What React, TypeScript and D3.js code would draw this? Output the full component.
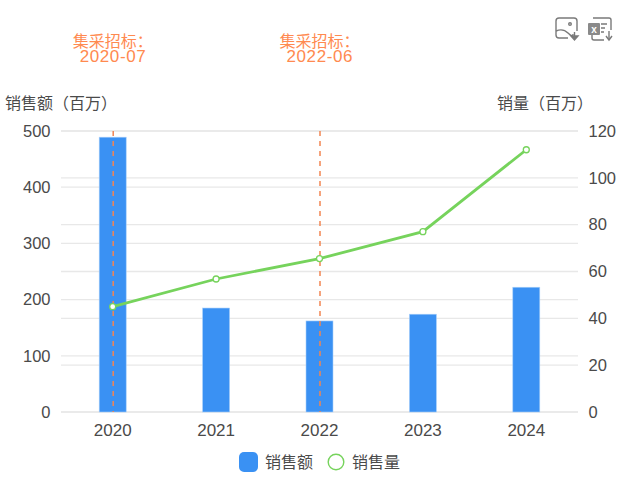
import React from "react";
import * as d3 from "d3";

const years = ["2020", "2021", "2022", "2023", "2024"];
const salesAmount = [489, 185, 162, 174, 222];
const salesVolume = [45, 56.8, 65.5, 77, 112];
const leftTicks = [0, 100, 200, 300, 400, 500];
const rightTicks = [0, 20, 40, 60, 80, 100, 120];
const tenders = [
  { year: "2020", date: "2020-07" },
  { year: "2022", date: "2022-06" },
];

const FONT = "'Liberation Sans','Noto Sans CJK SC',sans-serif";
const CJK = "'Noto Sans CJK SC',sans-serif";
const TEXT = "#4a4a4a";
const ORANGE = "#ff8a50";
const BLUE = "#3a91f3";
const GREEN = "#76d35c";

export default function App() {
  const x = d3.scaleBand<string>().domain(years).range([61, 578]);
  const yL = d3.scaleLinear().domain([0, 500]).range([412, 131]);
  const yR = d3.scaleLinear().domain([0, 120]).range([412, 131]);
  const cx = (y: string) => (x(y) as number) + x.bandwidth() / 2;
  const line = d3
    .line<number>()
    .x((_, i) => cx(years[i]))
    .y((d) => yR(d));
  const barW = 27;

  return (
    <svg
      width={632}
      height={490}
      style={{ position: "absolute", left: 0, top: 0, background: "#fff" }}
      fontFamily={FONT}
    >
      {leftTicks.map((t) => (
        <line key={"l" + t} x1={61} x2={578} y1={yL(t)} y2={yL(t)} stroke="#e8e8e8" strokeWidth={1.3} />
      ))}
      {rightTicks.map((t) => (
        <line key={"r" + t} x1={61} x2={578} y1={yR(t)} y2={yR(t)} stroke="#e8e8e8" strokeWidth={1.3} />
      ))}
      {salesAmount.map((v, i) => (
        <rect
          key={years[i]}
          x={cx(years[i]) - barW / 2}
          y={yL(v)}
          width={barW}
          height={412 - yL(v)}
          fill={BLUE}
          stroke="#a8cffa"
          strokeWidth={0.6}
        />
      ))}
      {tenders.map((t) => (
        <line
          key={t.date}
          x1={cx(t.year) + 0.5}
          x2={cx(t.year) + 0.5}
          y1={131}
          y2={412}
          stroke="#f28552"
          strokeWidth={1.5}
          strokeDasharray="5 5"
        />
      ))}
      <path d={line(salesVolume) as string} fill="none" stroke={GREEN} strokeWidth={2.8} />
      {salesVolume.map((v, i) => (
        <circle key={i} cx={cx(years[i])} cy={yR(v)} r={3} fill="#fff" stroke={GREEN} strokeWidth={1.3} />
      ))}
      {leftTicks.map((t) => (
        <text key={t} x={50.5} y={yL(t) + 5.8} textAnchor="end" fontSize={16.5} fill={TEXT}>
          {t}
        </text>
      ))}
      {rightTicks.map((t) => (
        <text key={t} x={588.5} y={yR(t) + 5.8} fontSize={16.5} fill={TEXT}>
          {t}
        </text>
      ))}
      {years.map((y) => (
        <text key={y} x={cx(y)} y={435.5} textAnchor="middle" fontSize={17} fill={TEXT}>
          {y}
        </text>
      ))}
      <text x={5} y={109} fontSize={16} fontFamily={CJK} fill={TEXT}>
        销售额（百万）
      </text>
      <text x={497} y={109} fontSize={16} fontFamily={CJK} fill={TEXT}>
        销量（百万）
      </text>
      {tenders.map((t) => (
        <text key={t.date} fill={ORANGE} fontSize={16}>
          <tspan x={cx(t.year) - 40} y={46.5} fontFamily={CJK}>
            集采招标：
          </tspan>
          <tspan x={cx(t.year) - 33} y={62} fontSize={17} textLength={66} lengthAdjust="spacing">
            {t.date}
          </tspan>
        </text>
      ))}
      {/* legend */}
      <rect x={239} y={452} width={19} height={20} rx={5} fill={BLUE} />
      <text x={265} y={468} fontSize={16} fontFamily={CJK} fill={TEXT}>
        销售额
      </text>
      <circle cx={336} cy={462} r={7.8} fill="#fff" stroke={GREEN} strokeWidth={1.4} />
      <text x={352} y={468} fontSize={16} fontFamily={CJK} fill={TEXT}>
        销售量
      </text>
      {/* toolbox icons */}
      <g fill="none" stroke="#7a7a7a" strokeWidth={1.4}>
        <path d="M568 38 H559 Q556 38 556 35 V21 Q556 18 559 18 H574 Q577 18 577 21 V31" />
        <path d="M556 31 Q563 28 568 33 T573 34" />
        <circle cx={570} cy={24} r={1.3} />
        <path d="M574.5 32 V37" />
        <path d="M571 36 L574.5 40 L578 36 Z" fill="#7a7a7a" />
        <path d="M593 18 H609 Q611 18 611 20 V30" />
        <path d="M592 33 V38 Q592 40 594 40 H604" />
        <path d="M601 24 H607 M601 28 H605 M601 32 H604" />
        <path d="M609 31 V39" />
        <path d="M606 36 L609 40 L612 36" />
      </g>
      <rect x={588} y={23} width={12} height={12} rx={1} fill="#8a8a8a" />
      <text x={594} y={33} textAnchor="middle" fontSize={10} fontWeight="bold" fill="#fff">
        x
      </text>
    </svg>
  );
}
